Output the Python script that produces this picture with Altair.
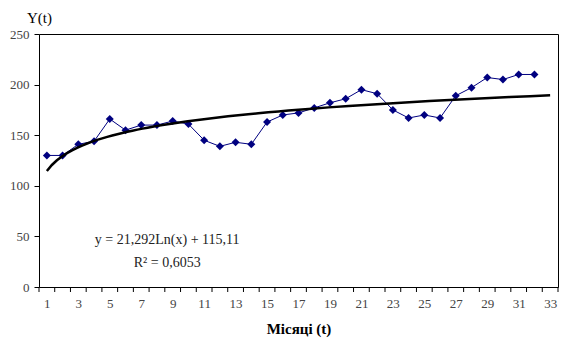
import altair as alt
import pandas as pd

# Data
months = list(range(1, 33))
values = [130, 130, 141, 144, 166, 155, 160, 160, 164, 161, 145, 139, 143, 141, 163,
          170, 172, 177, 182, 186, 195, 191, 175, 167, 170, 167, 189, 197, 207, 205, 210, 210]

# Axis labels (every other month) and category boundaries for tick marks
x_labels = list(range(1, 34, 2))
tick_bounds = [i + 0.5 for i in range(0, 34)]
y_ticks = [0, 50, 100, 150, 200, 250]

eq_labels = ["y = 21,292Ln(x) + 115,11", "R² = 0,6053"]
eq_t = [8.65, 8.65]
eq_y = [46, 24]

df = pd.DataFrame({"t": months, "y": values})
df_eq = pd.DataFrame({"t": eq_t, "y": eq_y, "label": eq_labels})
df_ticks = pd.DataFrame({"t": tick_bounds})

FONT = "Liberation Serif, Times New Roman, serif"
W, H = 519, 253

xscale = alt.Scale(domain=[0.5, 33.5], nice=False, zero=False)
yscale = alt.Scale(domain=[0, 250], nice=False)

x_enc = alt.X(
    "t:Q",
    scale=xscale,
    title="Місяці (t)",
    axis=alt.Axis(
        values=x_labels,
        format="d",
        ticks=False,
        labelFlush=False,
        labelOverlap=False,
        labelPadding=10,
        grid=False,
        domain=False,
        labelFont=FONT,
        labelFontSize=13,
        labelColor="#444444",
        titleFont=FONT,
        titleFontSize=15,
        titleFontWeight="bold",
        titleColor="black",
        titlePadding=11,
    ),
)
y_enc = alt.Y(
    "y:Q",
    scale=yscale,
    title="Y(t)",
    axis=alt.Axis(
        values=y_ticks,
        tickSize=5,
        grid=False,
        domain=False,
        labelPadding=5,
        labelFont=FONT,
        labelFontSize=13,
        labelColor="#444444",
        titleFont=FONT,
        titleFontSize=15,
        titleFontWeight="normal",
        titleColor="black",
        titleAngle=0,
        titleAlign="center",
        titleBaseline="middle",
        titleX=0,
        titleY=-17,
    ),
)

base = alt.Chart(df)
line = base.mark_line(color="#000080", strokeWidth=1).encode(x=x_enc, y=y_enc)
pts = base.mark_point(shape="diamond", filled=True, size=64, color="#000080", opacity=1).encode(x=x_enc, y=y_enc)
trend = (
    base.transform_regression("t", "y", method="log", extent=[1, 33])
    .mark_line(color="black", strokeWidth=2.5)
    .encode(x=x_enc, y=y_enc)
)
ticks = alt.Chart(df_ticks).mark_rule(color="black", strokeWidth=1, clip=False).encode(
    x=x_enc, y=alt.value(H), y2=alt.value(H + 5)
)
eq = alt.Chart(df_eq).mark_text(font=FONT, fontSize=14, color="#222222", align="center", baseline="middle").encode(
    x=x_enc, y=y_enc, text="label:N"
)

chart = (
    alt.layer(line, pts, trend, ticks, eq)
    .properties(
        width=W,
        height=H,
        autosize=alt.AutoSizeParams(type="none"),
        padding={"left": 39, "top": 34, "right": 23, "bottom": 67},
        background="white",
    )
    .configure_view(stroke="black", strokeWidth=1)
    .configure_axis(tickColor="black", labelOverlap=False)
)

chart.save("out.html", embed_options={"renderer": "svg", "actions": False})
